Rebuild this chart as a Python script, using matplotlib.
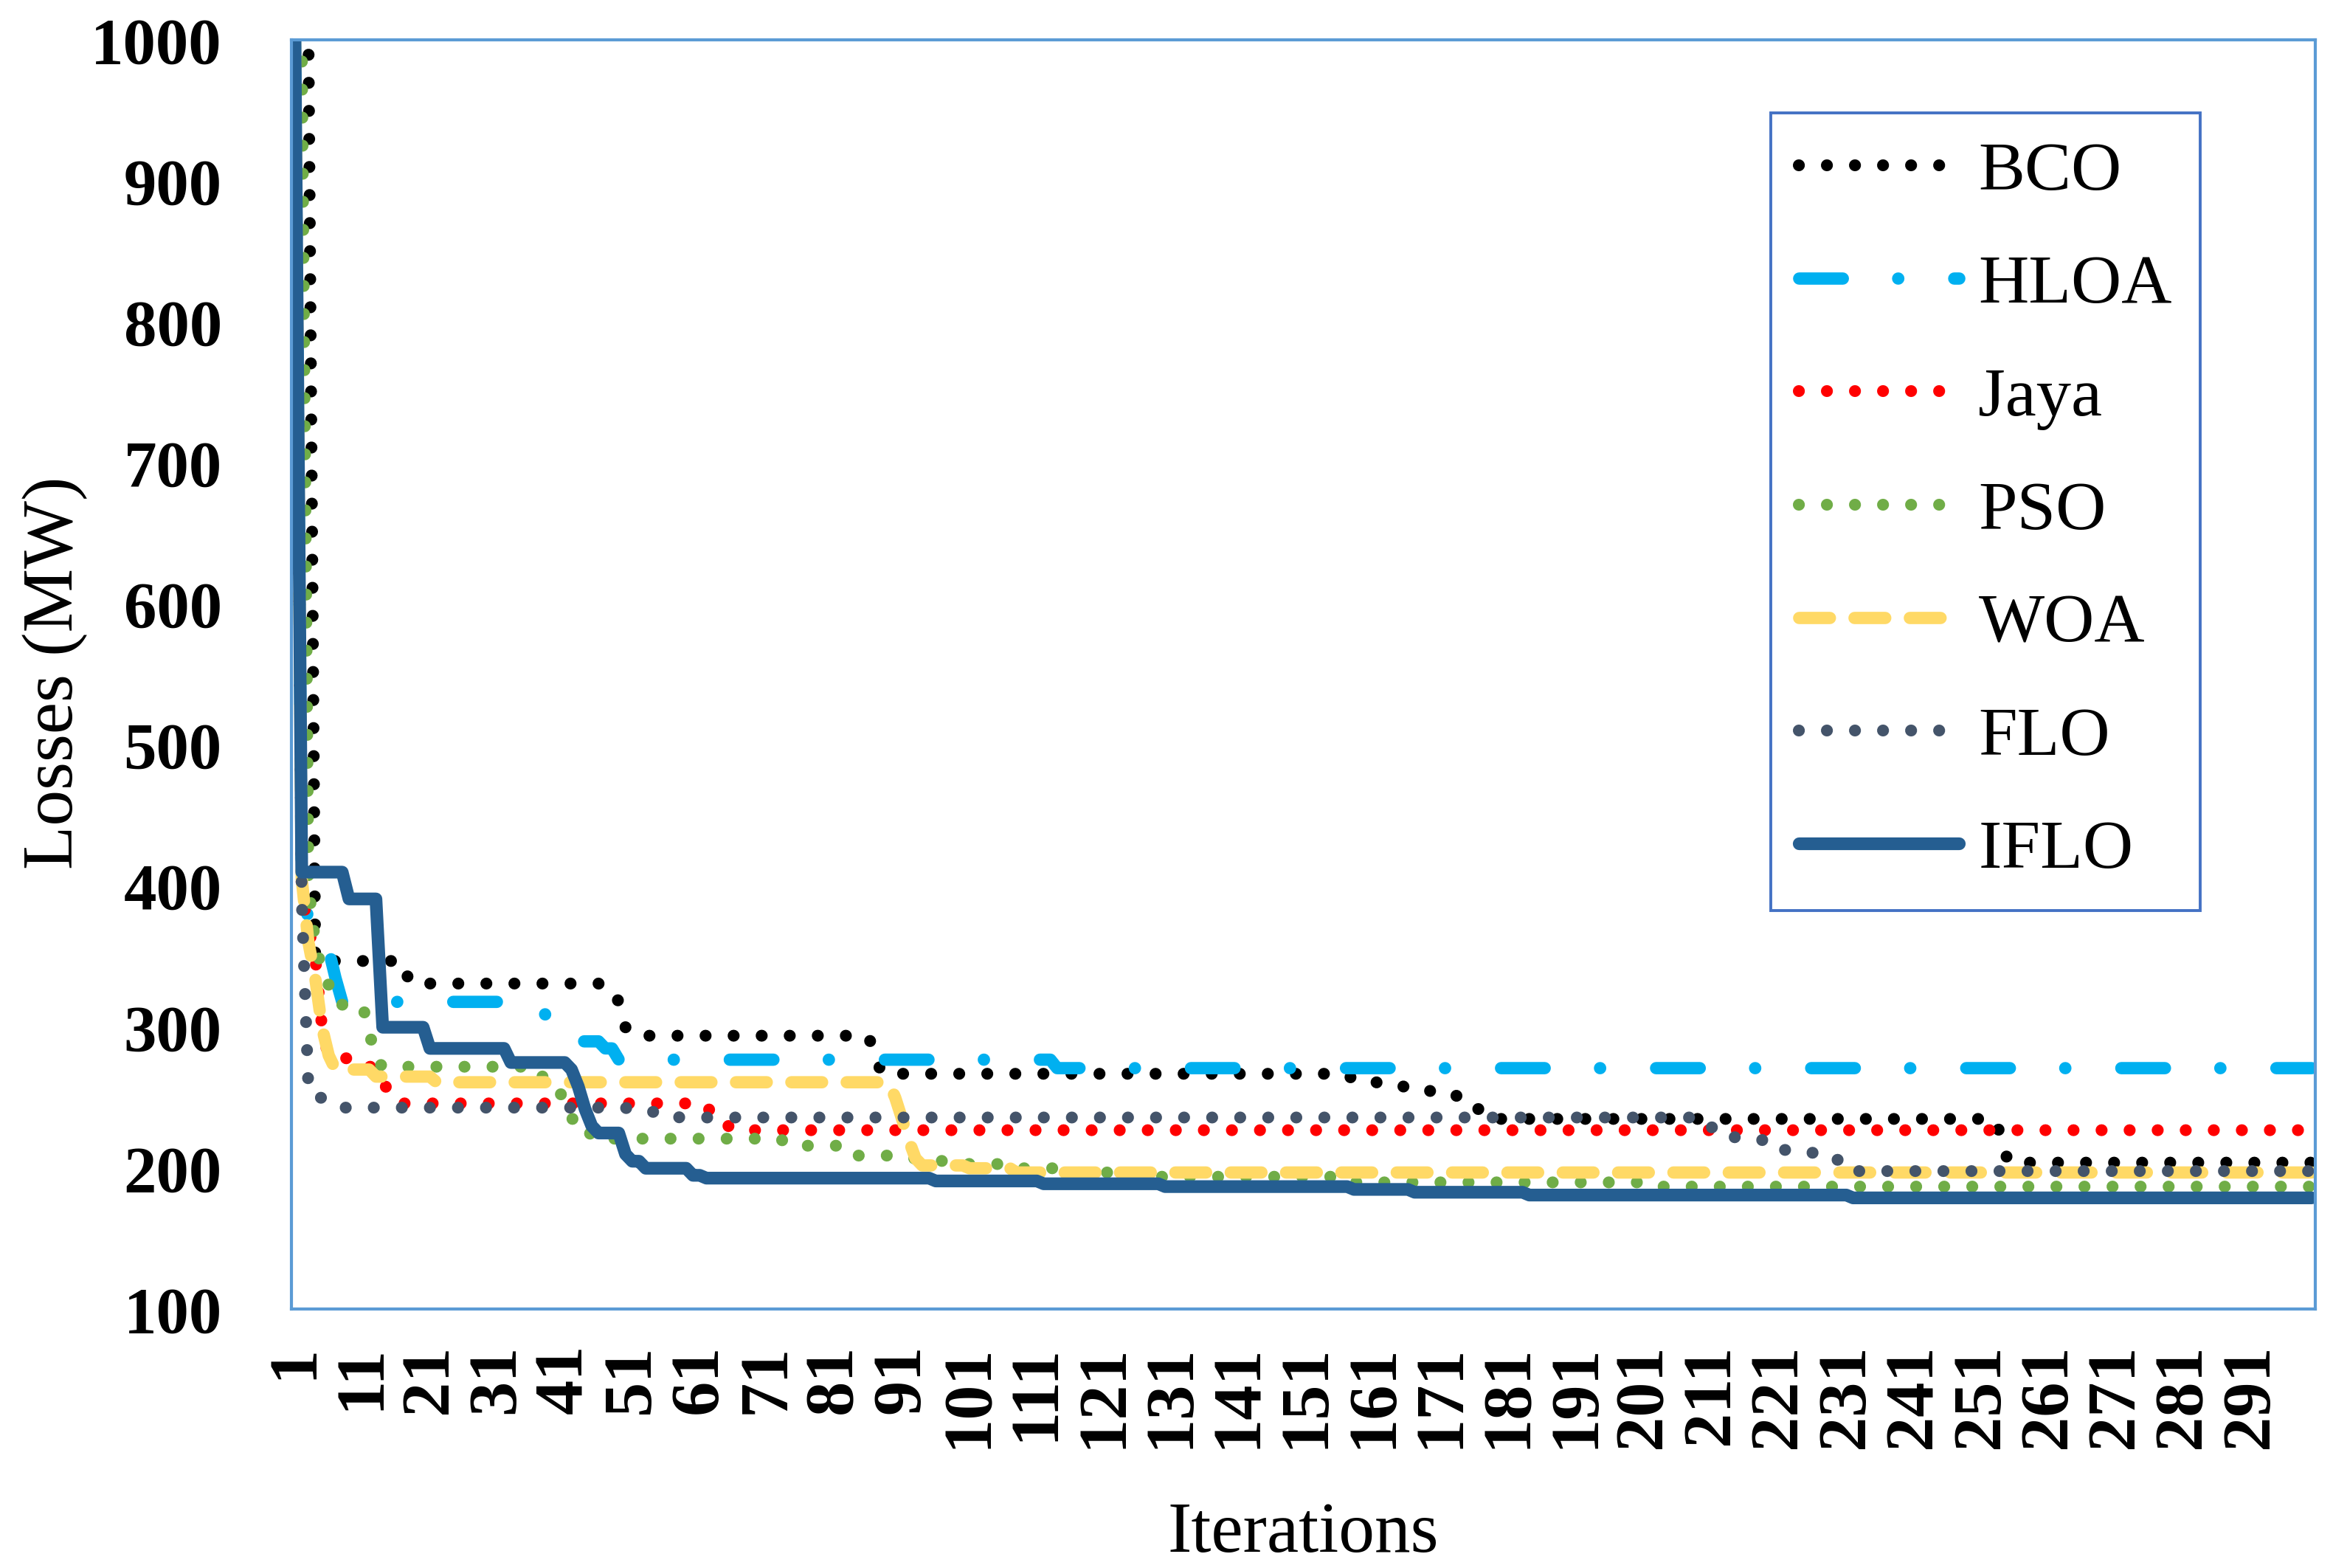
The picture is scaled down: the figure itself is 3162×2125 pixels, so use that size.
import numpy as np
import matplotlib
matplotlib.use("Agg")
import matplotlib.pyplot as plt

# iterations shown on the category axis
n_iter = 300
iterations = np.arange(1, n_iter + 1)
tick_iters = list(range(1, n_iter, 10))

# each series as (first iteration, value held from there)
bco = [(1, 1000), (4, 347), (18, 331), (47, 327), (49, 318), (50, 300), (51, 294),
       (87, 280), (88, 267), (158, 262), (162, 259), (166, 256), (170, 252),
       (174, 249), (176, 242), (179, 235), (254, 222), (255, 204)]
hloa = [(1, 1000), (2, 405), (3, 375), (4, 370), (6, 355), (7, 335), (8, 318),
        (38, 310), (39, 300), (43, 290), (47, 285), (49, 277), (114, 271)]
jaya = [(1, 1000), (2, 395), (3, 370), (4, 350), (5, 300), (6, 278), (10, 272),
        (14, 262), (15, 253), (16, 246), (63, 235), (64, 231), (66, 227)]
pso = [(1, 1000), (3, 400), (4, 360), (5, 340), (6, 330), (8, 316), (12, 297),
       (13, 277), (14, 272), (38, 262), (40, 255), (41, 249), (42, 235), (45, 221),
       (74, 216), (84, 209), (90, 207), (97, 205), (101, 203), (109, 200), (117, 197),
       (125, 194), (158, 190), (203, 187)]
woa = [(1, 1000), (2, 405), (3, 360), (4, 335), (5, 300), (6, 280), (7, 270),
       (13, 265), (22, 261), (90, 250), (91, 235), (92, 220), (93, 207), (94, 202),
       (101, 200), (108, 197)]
flo = [(1, 1000), (2, 390), (3, 255), (4, 250), (6, 246), (7, 243), (51, 240),
       (58, 236), (210, 229), (214, 222), (218, 220), (221, 213), (225, 211),
       (229, 206), (232, 198)]
iflo = [(1, 1000), (2, 410), (9, 391), (14, 300), (21, 285), (33, 275), (42, 270),
        (43, 258), (44, 242), (45, 230), (46, 225), (50, 210), (51, 205), (53, 200),
        (60, 195), (62, 193), (96, 191), (112, 189), (130, 187), (158, 185),
        (167, 183), (184, 181), (232, 179)]

names = ["BCO", "HLOA", "Jaya", "PSO", "WOA", "FLO", "IFLO"]
series = [bco, hloa, jaya, pso, woa, flo, iflo]


def hold(points):
    # each value stays until the next listed iteration
    out = np.empty(n_iter)
    for k, (start, val) in enumerate(points):
        end = points[k + 1][0] if k + 1 < len(points) else n_iter + 1
        out[start - 1:end - 1] = val
    return out


dot = (0, (0.01, 2.35))
styles = {
    "BCO": dict(color="black", lw=5.8, ls=dot),
    "HLOA": dict(color="#00B0F0", lw=6.0, ls=(0, (3.55, 4.5, 0.01, 4.55))),
    "Jaya": dict(color="#FF0000", lw=5.8, ls=dot),
    "PSO": dict(color="#70AD47", lw=5.8, ls=dot),
    "WOA": dict(color="#FFD966", lw=6.0, ls=(0, (2.5, 2.0))),
    "FLO": dict(color="#44546A", lw=5.8, ls=dot),
    "IFLO": dict(color="#255E91", lw=6.2, ls="-"),
}

fig = plt.figure(figsize=(15.81, 10.625), dpi=200)
ax = fig.add_axes([0.125, 0.165, 0.8673, 0.8094])

for name, pts in zip(names, series):
    st = styles[name]
    ax.plot(iterations, hold(pts), color=st["color"], lw=st["lw"], linestyle=st["ls"],
            dash_capstyle="round", solid_capstyle="round", solid_joinstyle="round",
            label=name)

ax.set_xlim(0.5, n_iter + 0.5)
ax.set_ylim(100, 1000)
ax.set_yticks(range(100, 1001, 100))
ax.set_xticks(tick_iters)
ax.set_xticklabels([str(t) for t in tick_iters], rotation=90, va="top")
ax.tick_params(length=0)
ax.tick_params(axis="y", pad=34)
ax.tick_params(axis="x", pad=17)
for lab in ax.get_yticklabels():
    lab.set_fontfamily("Liberation Serif")
    lab.set_fontweight("bold")
    lab.set_fontsize(32)
for lab in ax.get_xticklabels():
    lab.set_fontfamily("Liberation Serif")
    lab.set_fontweight("bold")
    lab.set_fontsize(34)

for sp in ax.spines.values():
    sp.set_color("#5B9BD5")
    sp.set_linewidth(1.5)

ax.set_xlabel("Iterations", fontfamily="Liberation Serif", fontsize=35, labelpad=26)
fig.text(0.0236, 0.571, "Losses (MW)", rotation=90, ha="center", va="center",
         fontfamily="Liberation Serif", fontsize=35)

leg = ax.legend(loc="upper left", bbox_to_anchor=(0.759, 0.9279),
                bbox_transform=fig.transFigure, prop={"family": "Liberation Serif", "size": 34},
                handlelength=2.3, handletextpad=0.28, borderpad=0.4, borderaxespad=0,
                labelspacing=0.71, fancybox=False, framealpha=1)
leg.get_frame().set_edgecolor("#4472C4")
leg.get_frame().set_linewidth(1.4)

fig.savefig("out.png", dpi=200)
